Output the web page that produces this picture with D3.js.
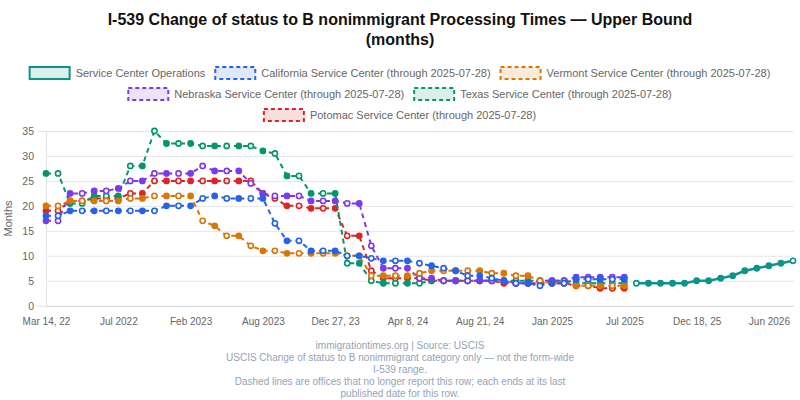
<!DOCTYPE html>
<html>
<head>
<meta charset="utf-8">
<script src="https://cdn.jsdelivr.net/npm/d3@7"></script>
<style>
  body { margin: 0; background: #fff; }
  svg text { font-family: "Liberation Sans", Arial, Helvetica, sans-serif; }
</style>
</head>
<body>
<div id="chart"></div>
<script>
// report dates (one per point on the x axis)
var categories = [
  "2022-03-14","2022-04-04","2022-04-25","2022-05-16","2022-06-06","2022-06-27","2022-07-18","2022-08-08",
  "2022-08-29","2022-09-19","2022-10-31","2022-12-12","2023-02-06","2023-03-06","2023-04-03","2023-05-01",
  "2023-06-05","2023-07-03","2023-08-07","2023-09-04","2023-10-02","2023-10-30","2023-11-20","2023-12-06",
  "2023-12-27","2024-01-17","2024-02-07","2024-02-28","2024-03-18","2024-03-28","2024-04-08","2024-04-29",
  "2024-05-20","2024-06-10","2024-07-01","2024-07-22","2024-08-21","2024-09-11","2024-10-02","2024-10-23",
  "2024-11-13","2024-12-04","2025-01-06","2025-02-03","2025-03-03","2025-03-31","2025-05-05","2025-06-16",
  "2025-07-28","2025-08-18","2025-09-08","2025-09-29","2025-10-20","2025-11-10","2025-12-18","2026-01-08",
  "2026-01-29","2026-02-19","2026-03-12","2026-04-02","2026-06-01","2026-06-22","2026-07-13"
];

// tick labels shown on the x axis
var tickLabels = {
  "2022-03-14": "Mar 14, 22", "2022-07-18": "Jul 2022", "2023-02-06": "Feb 2023",
  "2023-08-07": "Aug 2023", "2023-12-27": "Dec 27, 23", "2024-04-08": "Apr 8, 24",
  "2024-08-21": "Aug 21, 24", "2025-01-06": "Jan 2025", "2025-07-28": "Jul 2025",
  "2025-12-18": "Dec 18, 25", "2026-06-01": "Jun 2026"
};

var yTicks = [0, 5, 10, 15, 20, 25, 30, 35];

// upper bound, months (missing = not reported)
var operations = [null,null,null,null,null,null,null,null,null,null,null,null,null,null,null,null,
  null,null,null,null,null,null,null,null,null,null,null,null,null,null,null,null,
  null,null,null,null,null,null,null,null,null,null,null,null,null,null,null,null,
  null,4.5,4.5,4.5,4.5,4.5,5,5,5.5,6,7,7.5,8,8.5,9];
var california = [18,18,19,19,19,19,19,19,19,19,20,20,20,21.5,22,21.5,21.5,21.5,21.5,16.5,13,13,11,11,11,
  10,10,9.5,9,9,9,8.5,8,7.5,7,6,6,5.5,5,4.5,4.5,4,4.5,4.5,5.3,5.3,5.3,5.3,5.3];
var vermont = [20,20,21,21,21,21,21,21.5,21.5,22,22,22,22,17,16,14,14,12,11,11,10.5,10.5,10.5,10.5,10.5,
  10,10,6,6,6,6,6.5,7,7,7,7,7,6.5,6.5,6,6,5,4.5,4.5,4,4,4,4,4];
var nebraska = [17,17,22.5,22.5,23,23,23.5,25,25,26.5,26.5,26.5,26.5,28,27,27,27,24.5,22.5,22,22,22,21,21,21,
  20.5,20.5,12,7.5,7.5,7.5,5.5,5.5,5,5,5,5,5,5,4.5,4.5,5,5,5,5.7,5.7,5.7,5.7,5.7];
var texas = [26.5,26.5,20.5,20.5,22,22,22,28,28,35,32.5,32.5,32.5,32,32,32,32,32,31,30.5,26,26,22.5,22.5,22.5,
  8.5,8.5,5,4.5,4.5,4.5,4.5,5,5,5,5,5,5,5,5,5,5,5,5,4.5,4.5,4.5,4.5,4.5];
var potomac = [19,19,21,21,21.5,21.5,21.5,22.5,22.5,25,25,25,25,25,25,25,25,25,22.5,21.5,20,20,19.5,19.5,19.5,
  14,14,7,5.5,5.5,5.5,5.5,5,5,5,5,5,5,4.5,4.5,4.5,4.5,4.5,4.5,4,4,3.5,3.5,3.5];

var seriesNames = [
  "Service Center Operations",
  "California Service Center (through 2025-07-28)",
  "Vermont Service Center (through 2025-07-28)",
  "Nebraska Service Center (through 2025-07-28)",
  "Texas Service Center (through 2025-07-28)",
  "Potomac Service Center (through 2025-07-28)"
];
var seriesColors = ["#0d9488", "#2563eb", "#d97706", "#7c3aed", "#059669", "#dc2626"];
var seriesValues = [operations, california, vermont, nebraska, texas, potomac];

var width = 800, height = 400;
var plot = {left: 46, right: 794, top: 131, bottom: 306};

var svg = d3.select("#chart").append("svg")
    .attr("width", width)
    .attr("height", height);

// title
svg.append("text")
    .attr("x", width / 2).attr("y", 25)
    .attr("text-anchor", "middle")
    .style("font-size", "16px").style("font-weight", "bold").style("fill", "#111")
    .text("I-539 Change of status to B nonimmigrant Processing Times \u2014 Upper Bound");
svg.append("text")
    .attr("x", width / 2).attr("y", 45)
    .attr("text-anchor", "middle")
    .style("font-size", "16px").style("font-weight", "bold").style("fill", "#111")
    .text("(months)");

var x = d3.scalePoint()
    .domain(categories)
    .range([plot.left, plot.right - 1]);

var y = d3.scaleLinear()
    .domain([0, 35])
    .range([plot.bottom - 0.3, plot.top]);

// grid + y axis
var yAxis = svg.append("g")
    .attr("transform", "translate(" + plot.left + ",0)")
    .call(d3.axisLeft(y).tickValues(yTicks).tickSize(8).tickPadding(4))
    .call(g => g.select(".domain").attr("stroke", "#e2e2e2"));
yAxis.selectAll(".tick line")
    .attr("x2", plot.right - plot.left)
    .attr("stroke", "#e6e6e6");
yAxis.selectAll(".tick text")
    .style("font-size", "10.5px").style("fill", "#666");

// x axis
svg.append("g")
    .attr("transform", "translate(0," + plot.bottom + ")")
    .call(d3.axisBottom(x)
        .tickValues(categories.filter(d => tickLabels[d]))
        .tickFormat(d => tickLabels[d])
        .tickSize(0).tickPadding(12))
    .call(g => g.select(".domain").attr("stroke", "#dcdcdc"))
    .selectAll("text")
        .style("font-size", "10px").style("fill", "#666");

svg.append("text")
    .attr("transform", "translate(12," + ((plot.top + plot.bottom) / 2) + ") rotate(-90)")
    .attr("text-anchor", "middle")
    .style("font-size", "11px").style("fill", "#666")
    .text("Months");

// lines, drawn last dataset first so the first sits on top
var line = d3.line()
    .defined(d => d.v != null)
    .x(d => x(d.c))
    .y(d => y(d.v));

d3.range(seriesNames.length).reverse().forEach(function(s) {
    var pts = categories.map((c, i) => ({c: c, v: seriesValues[s][i], i: i}));
    var color = seriesColors[s];
    var g = svg.append("g");
    g.append("path")
        .datum(pts)
        .attr("d", line)
        .attr("fill", "none")
        .attr("stroke", color)
        .attr("stroke-width", s === 0 ? 2.5 : 2)
        .attr("stroke-dasharray", s === 0 ? null : "5,4");
    var shown = pts.filter(d => d.v != null);
    g.selectAll("circle")
        .data(shown)
        .enter()
        .append("circle")
        .attr("cx", d => x(d.c))
        .attr("cy", d => y(d.v))
        .attr("r", 2.6)
        .attr("stroke", color)
        .attr("stroke-width", 1.6)
        .attr("fill", function(d, k) {
            if (s === 0) return (k === 0 || k === shown.length - 1) ? "#fff" : color;
            return d.i % 2 === 0 ? color : "#fff";
        });
});

// legend, centred rows like the original
var legend = svg.append("g");
var items = seriesNames.map(function(name, s) {
    var g = legend.append("g");
    g.append("rect")
        .attr("width", 40).attr("height", 12)
        .attr("fill", seriesColors[s]).attr("fill-opacity", 0.15)
        .attr("stroke", seriesColors[s]).attr("stroke-width", 2)
        .attr("stroke-dasharray", s === 0 ? null : "4,3");
    var t = g.append("text")
        .attr("x", 46).attr("y", 10)
        .style("font-size", "11px").style("fill", "#666")
        .text(name);
    return {g: g, w: 46 + t.node().getComputedTextLength()};
});

var rows = [[]], rowW = [0], maxW = 760;
items.forEach(function(it) {
    var r = rows.length - 1;
    var add = (rows[r].length ? 10 : 0) + it.w;
    if (rows[r].length && rowW[r] + add > maxW) {
        rows.push([it]); rowW.push(it.w);
    } else {
        rows[r].push(it); rowW[r] += add;
    }
});
rows.forEach(function(row, r) {
    var cx = (width - rowW[r]) / 2;
    row.forEach(function(it) {
        it.g.attr("transform", "translate(" + cx + "," + (67 + r * 21) + ")");
        cx += it.w + 10;
    });
});

// footer
var footer = [
  "immigrationtimes.org | Source: USCIS",
  "USCIS Change of status to B nonimmigrant category only \u2014 not the form-wide",
  "I-539 range.",
  "Dashed lines are offices that no longer report this row; each ends at its last",
  "published date for this row."
];
svg.selectAll(".foot")
    .data(footer)
    .enter()
    .append("text")
    .attr("class", "foot")
    .attr("x", width / 2)
    .attr("y", (d, i) => 349 + i * 12)
    .attr("text-anchor", "middle")
    .style("font-size", "10px").style("fill", "#94a3b8")
    .text(d => d);
</script>
</body>
</html>
